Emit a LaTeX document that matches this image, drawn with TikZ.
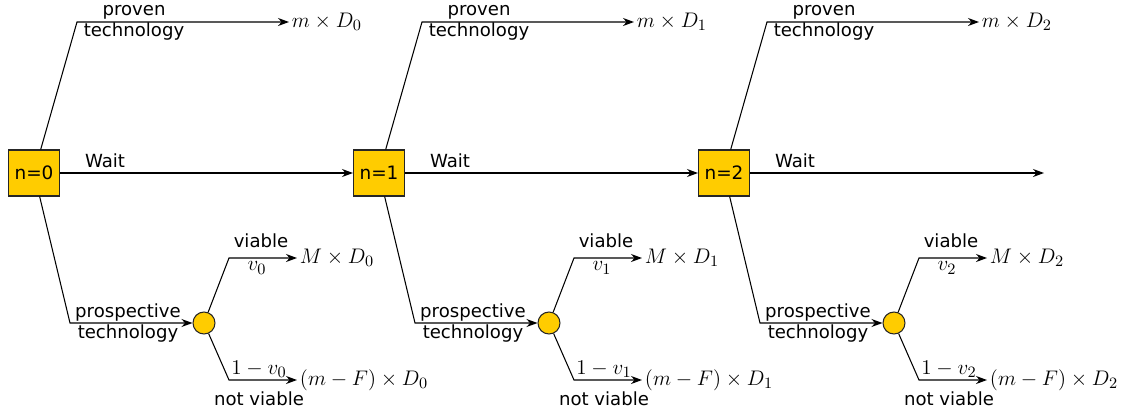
\documentclass[tikz,border=0pt]{standalone}
\usepackage{fontspec}
\newfontfamily\dejavu{DejaVu Sans}
\usetikzlibrary{arrows.meta}
\definecolor{gold}{HTML}{FFCC00}
\tikzset{
  box/.style={draw=black!85, fill=gold, minimum width=1.02cm, minimum height=0.92cm, inner sep=0pt, line width=0.6pt, font=\dejavu\fontsize{10.5}{12.4}\selectfont},
  chance/.style={draw=black!85, fill=gold, circle, minimum size=0.44cm, inner sep=0pt, line width=0.6pt},
  lbl/.style={font=\dejavu\fontsize{10.3}{12.2}\selectfont, inner sep=1pt},
  res/.style={font=\fontsize{13}{15.5}\selectfont, inner sep=1.5pt},
  arr/.style={-{Stealth[length=2.2mm, width=1.6mm]}, line width=0.6pt},
}
\begin{document}
\begin{tikzpicture}[x=0.02cm, y=-0.02cm]
    \useasboundingbox (0,0) rectangle (1133,413);

    % one stage of the tree per n
    \foreach \i/\x in {0/0,1/345,2/690} {
        \node[box] (n\i) at (\x+34,173) {n=\i};
        \coordinate (up\i) at (\x+77,22);
        \coordinate (dn\i) at (\x+70,323);
        \node[chance] (c\i) at (\x+204,323) {};
        \coordinate (vu\i) at (\x+229,258);
        \coordinate (vd\i) at (\x+229,380);

        % outcomes
        \node[res, anchor=west] (pv\i) at (\x+289,22) {$m\times D_\i$};
        \node[res, anchor=west] (good\i) at (\x+297,258) {$M\times D_\i$};
        \node[res, anchor=west] (bad\i) at (\x+297,380) {$(m-F)\times D_\i$};

        % branches
        \draw[arr] (n\i) -- (up\i) -- (pv\i);
        \draw[arr] (n\i) -- (dn\i) -- (c\i);
        \draw[arr] (c\i) -- (vu\i) -- (good\i);
        \draw[arr] (c\i) -- (vd\i) -- (bad\i);

        % labels
        \node[lbl, align=center] (pt\i) at (\x+134,23) {proven\\technology};
        \node[lbl] (w\i) at (\x+105,161) {Wait};
        \node[lbl, align=center] (ps\i) at (\x+128,323) {prospective\\technology};
        \node[lbl] (vl\i) at (\x+261,241) {viable};
        \node[res] (p\i) at (\x+257,268) {$v_\i$};
        \node[res] (q\i) at (\x+259,369) {$1-v_\i$};
        \node[lbl] (nv\i) at (\x+259,399) {not viable};
    }

    % wait chain
    \coordinate (end) at (1044,173);
    \draw[arr] (n0) -- (n1);
    \draw[arr] (n1) -- (n2);
    \draw[arr] (n2) -- (end);
\end{tikzpicture}
\end{document}
